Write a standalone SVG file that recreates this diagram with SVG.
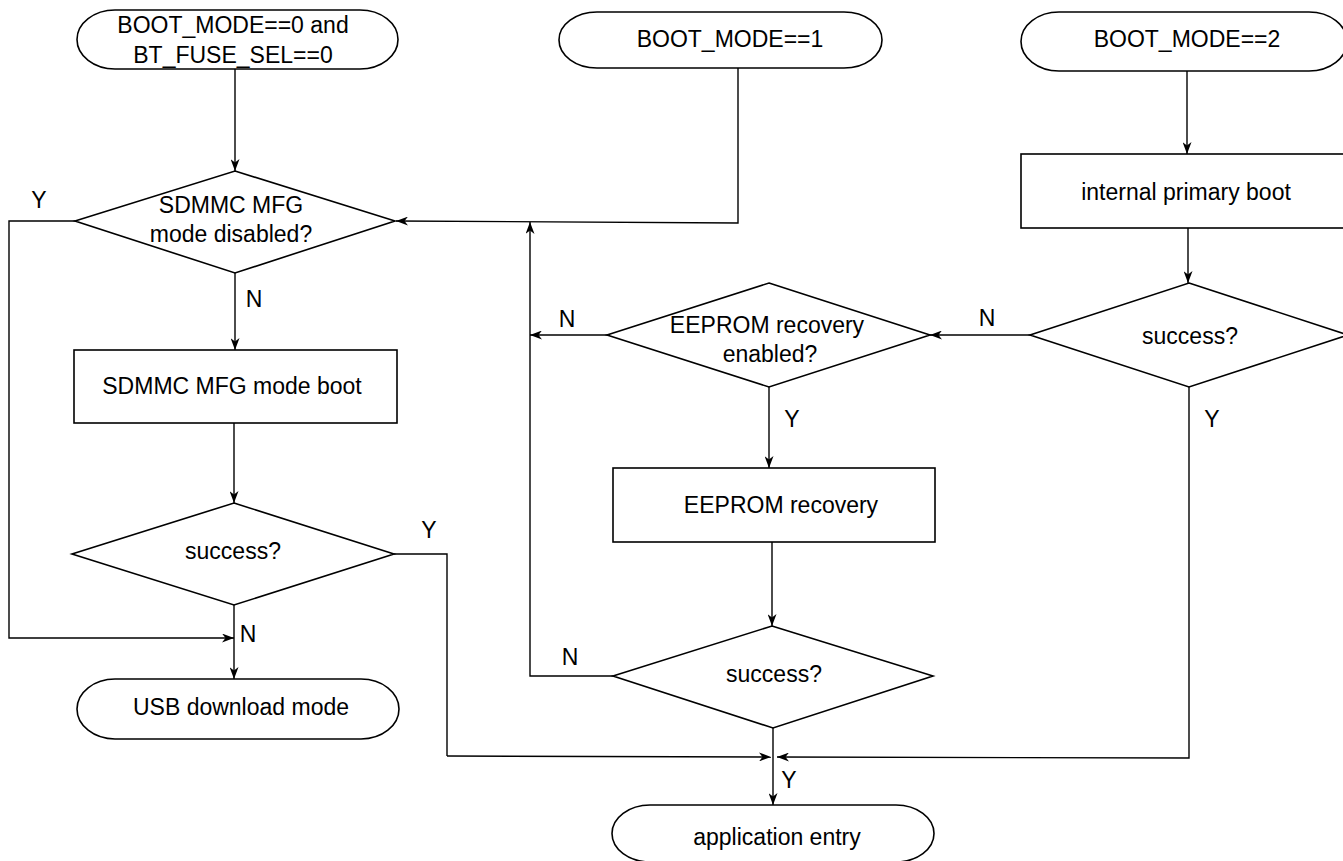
<svg xmlns="http://www.w3.org/2000/svg" width="1343" height="861" viewBox="0 0 1343 861">
<defs>
<marker id="arr" viewBox="0 0 12 9" markerWidth="12" markerHeight="9" refX="12" refY="4.5" orient="auto" markerUnits="userSpaceOnUse">
<path d="M0,0 L12,4.5 L0,9 L3.5,4.5 z" fill="#000"/>
</marker>
</defs>
<style>
.s{fill:#fff;stroke:#000;stroke-width:1.6}
.c{fill:none;stroke:#000;stroke-width:1.4}
.a{marker-end:url(#arr)}
text{font-family:"Liberation Sans",Arial,Helvetica,sans-serif;font-size:23px;fill:#000;text-anchor:middle}
</style>
<rect width="1343" height="861" fill="#fff"/>
<g id="connectors">
<path class="c a" d="M235,69 L235,171"/>
<path class="c a" d="M75,221 L9,221 L9,638 L234,638"/>
<path class="c a" d="M235,273 L235,350"/>
<path class="c a" d="M234,423 L234,503"/>
<path class="c a" d="M234,605 L234,679"/>
<path class="c" d="M394,554 L447,554 L447,756"/>
<path class="c a" d="M447,756 L771,757"/>
<path class="c a" d="M738,68 L738,223 L396,221"/>
<path class="c a" d="M1187,71 L1187,154"/>
<path class="c a" d="M1188,228 L1188,283"/>
<path class="c a" d="M1030,335 L930,335"/>
<path class="c a" d="M607,335 L530,335"/>
<path class="c a" d="M613,676 L530,676 L530,222"/>
<path class="c a" d="M769,387 L769,468"/>
<path class="c a" d="M772,542 L772,626"/>
<path class="c a" d="M1189,387 L1189,758 L777,757"/>
<path class="c a" d="M773,728 L773,805"/>
</g>
<g id="labels">
<text x="39" y="208">Y</text>
<text x="254" y="307">N</text>
<text x="429" y="538">Y</text>
<text x="248" y="642">N</text>
<text x="987" y="326">N</text>
<text x="567" y="327">N</text>
<text x="792" y="427">Y</text>
<text x="1212" y="427">Y</text>
<text x="570" y="665">N</text>
<text x="789" y="788">Y</text>
</g>
<g id="start0">
<rect class="s" x="77" y="10" width="321" height="59" rx="38" ry="29.5"/>
<text x="233" y="33">BOOT_MODE==0 and</text>
<text x="233" y="63">BT_FUSE_SEL==0</text>
</g>
<g id="start1">
<rect class="s" x="559" y="12" width="323" height="56" rx="38" ry="28"/>
<text x="730" y="47">BOOT_MODE==1</text>
</g>
<g id="start2">
<rect class="s" x="1021" y="12" width="326" height="59" rx="38" ry="29.5"/>
<text x="1187" y="47">BOOT_MODE==2</text>
</g>
<g id="sdmmcCheck">
<polygon class="s" points="235,171 395,221 235,273 75,221"/>
<text x="231" y="213">SDMMC MFG</text>
<text x="231" y="242">mode disabled?</text>
</g>
<g id="sdmmcBoot">
<rect class="s" x="74" y="350" width="323" height="73"/>
<text x="232" y="394">SDMMC MFG mode boot</text>
</g>
<g id="sdmmcSuccess">
<polygon class="s" points="234,503 394,554 234,605 72,554"/>
<text x="233" y="559">success?</text>
</g>
<g id="usbDownload">
<rect class="s" x="77" y="679" width="322" height="60" rx="38" ry="30"/>
<text x="241" y="715">USB download mode</text>
</g>
<g id="internalBoot">
<rect class="s" x="1021" y="154" width="325" height="74"/>
<text x="1186" y="200">internal primary boot</text>
</g>
<g id="internalSuccess">
<polygon class="s" points="1189,283 1348,335 1189,387 1030,335"/>
<text x="1190" y="344">success?</text>
</g>
<g id="eepromCheck">
<polygon class="s" points="769,283 930,335 769,387 607,335"/>
<text x="767" y="333">EEPROM recovery</text>
<text x="770" y="362">enabled?</text>
</g>
<g id="eepromRecovery">
<rect class="s" x="613" y="468" width="322" height="74"/>
<text x="781" y="513">EEPROM recovery</text>
</g>
<g id="eepromSuccess">
<polygon class="s" points="772,626 933,676 773,728 613,676"/>
<text x="774" y="682">success?</text>
</g>
<g id="appEntry">
<rect class="s" x="612" y="805" width="322" height="57" rx="38" ry="28.5"/>
<text x="777" y="845">application entry</text>
</g>
</svg>
